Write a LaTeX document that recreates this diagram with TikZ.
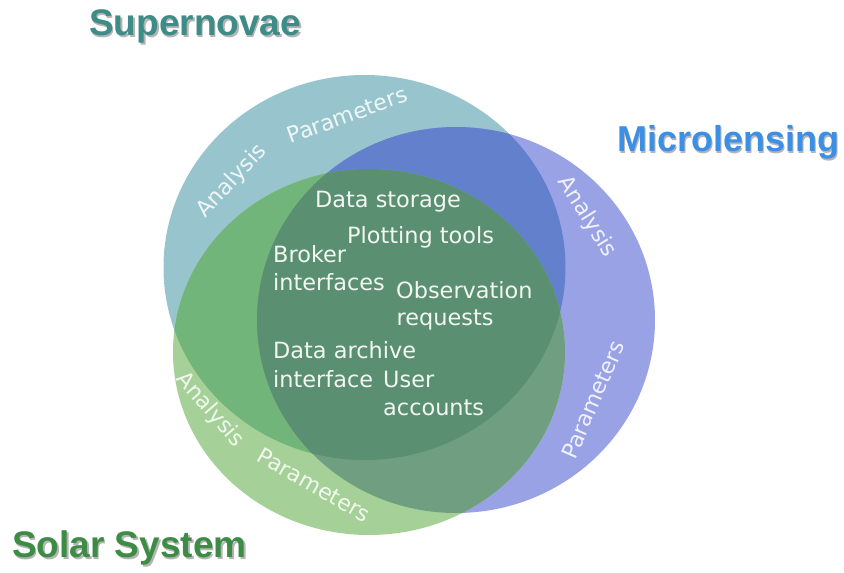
\documentclass[tikz,border=0pt]{standalone}
\usepackage{fontspec}
\setmainfont{DejaVu Sans}
\newfontfamily\titlefont{Liberation Sans}
\definecolor{cT}{HTML}{98C5CD}
\definecolor{cB}{HTML}{9AA2E6}
\definecolor{cG}{HTML}{A5D198}
\definecolor{cTB}{HTML}{6280CB}
\definecolor{cTG}{HTML}{72B57A}
\definecolor{cBG}{HTML}{709E80}
\definecolor{cTBG}{HTML}{5A8F72}
\definecolor{tSN}{HTML}{3D8C87}
\definecolor{tML}{HTML}{3B8FE6}
\definecolor{tSS}{HTML}{3C8C45}
\definecolor{shadowgray}{HTML}{B4B4B4}
\definecolor{lbltext}{HTML}{F2F7F0}
\newcommand\ellT{(364.5,267.5) ellipse [x radius=201pt, y radius=192.5pt]}
\newcommand\ellB{(456,320) ellipse [x radius=199pt, y radius=193pt]}
\newcommand\ellG{(369,352) ellipse [x radius=196pt, y radius=183pt]}
\newcommand\shadowed[1]{\makebox[0pt][l]{\hspace{1.6pt}\raisebox{-2.6pt}{\textcolor{shadowgray}{#1}}}#1}
\tikzset{
  titletext/.style={font=\titlefont\bfseries\fontsize{37}{40}\selectfont, anchor=base west, inner sep=0pt},
  lbl/.style={font=\fontsize{22.4}{28}\selectfont, text=lbltext, anchor=base west, inner sep=0pt},
  arclbl/.style={font=\fontsize{22}{28}\selectfont, text=white, text opacity=0.85, anchor=center, inner sep=0pt}
}
\begin{document}
\begin{tikzpicture}[x=1pt,y=-1pt]
\useasboundingbox (0,0) rectangle (844,573);
\fill[white] (0,0) rectangle (844,573);
% single regions
\fill[cT] \ellT;
\fill[cB] \ellB;
\fill[cG] \ellG;
% pairwise
\begin{scope}\clip \ellT; \fill[cTB] \ellB; \end{scope}
\begin{scope}\clip \ellT; \fill[cTG] \ellG; \end{scope}
\begin{scope}\clip \ellB; \fill[cBG] \ellG; \end{scope}
% triple
\begin{scope}\clip \ellT; \clip \ellB; \fill[cTBG] \ellG; \end{scope}

% titles
\node[titletext, text=tSN] (sn) at (89,35) {\shadowed{Supernovae}};
\node[titletext, text=tML, font=\titlefont\bfseries\fontsize{36}{40}\selectfont] (ml) at (617,151) {\shadowed{Microlensing}};
\node[titletext, text=tSS] (ss) at (12,557) {\shadowed{Solar System}};

% centre labels
\node[lbl] (ds) at (315,207) {Data storage};
\node[lbl] (pt) at (347,243) {Plotting tools};
\node[lbl] (br1) at (273,262) {Broker};
\node[lbl] (br2) at (273,290) {interfaces};
\node[lbl] (ob1) at (396,298) {Observation};
\node[lbl] (ob2) at (396.5,325) {requests};
\node[lbl] (da1) at (273,358) {Data archive};
\node[lbl] (da2) at (273,387) {interface};
\node[lbl] (ua1) at (383,387) {User};
\node[lbl] (ua2) at (383,415) {accounts};

% arc labels
\node[arclbl, rotate=47] (tA) at (232,181) {Analysis};
\node[arclbl, rotate=20] (tP) at (347,115) {Parameters};
\node[arclbl, rotate=-58] (bA) at (587,217) {Analysis};
\node[arclbl, rotate=66.5] (bP) at (593,400) {Parameters};
\node[arclbl, rotate=-49] (gA) at (210,410) {Analysis};
\node[arclbl, rotate=-29.5] (gP) at (314,485) {Parameters};
\end{tikzpicture}
\end{document}
